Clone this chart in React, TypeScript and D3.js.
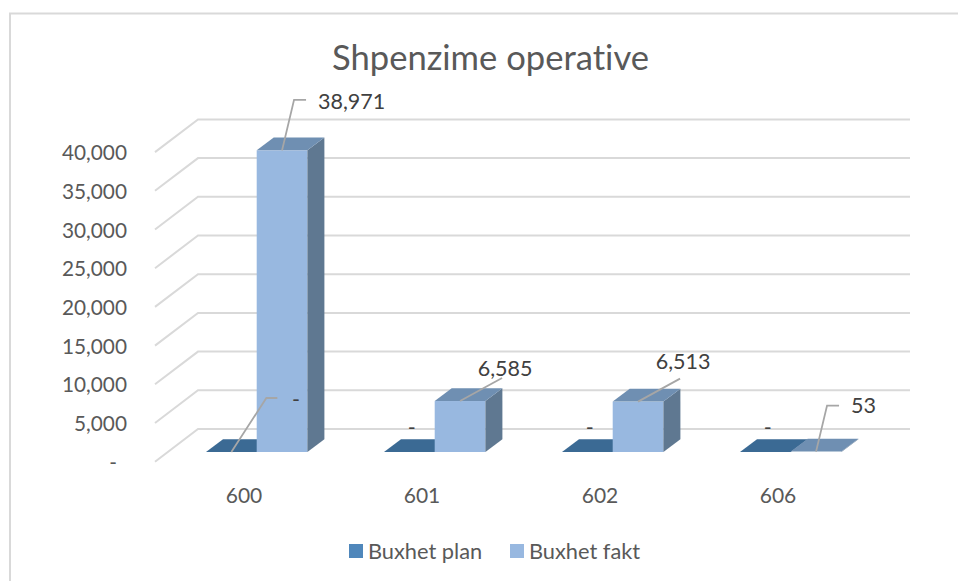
import React from "react";
import * as d3 from "d3";

const categories = ["600", "601", "602", "606"];
const seriesNames = ["Buxhet plan", "Buxhet fakt"];
const plan = [0, 0, 0, 0];
const fakt = [38971, 6585, 6513, 53];
const ticks = [0, 5000, 10000, 15000, 20000, 25000, 30000, 35000, 40000];

const FONT = "Lato, 'Open Sans', sans-serif";
const TXT = "#595959";
const LBL = "#404040";
const GRID = "#d9d9d9";
const LEAD = "#a6a6a6";

const fmt = (v: number) => (v === 0 ? "-" : d3.format(",")(v));

// category band on the bars' front plane
const x = d3.scaleBand<string>().domain(categories).range([168, 880]).paddingInner(0).paddingOuter(0);
// value axis: bars' front plane
const yBar = d3.scaleLinear().domain([0, 40000]).range([452, 452 - 38.7 * 8]);
// axis wall offsets
const axisLeft = 155, wallLeft = 198, wallRight = 910;
const yFront = (v: number) => yBar(v) + 9.7;
const yBack = (v: number) => yBar(v) - 23;
const depthX = 17, depthY = -12.8, barW = 50.7;

function Bar({ x0, v, front, top, side }: { x0: number; v: number; front: string; top: string; side: string }) {
  const yb = yBar(0), yt = yBar(v), x1 = x0 + barW;
  const p = (a: number[][]) => a.map((q) => q.join(",")).join(" ");
  return (
    <g>
      {yb - yt > 0.5 && <rect x={x0} y={yt} width={barW} height={yb - yt} fill={front} />}
      <polygon points={p([[x1, yb], [x1 + depthX, yb + depthY], [x1 + depthX, yt + depthY], [x1, yt]])} fill={side} />
      <polygon points={p([[x0, yt], [x1, yt], [x1 + depthX, yt + depthY], [x0 + depthX, yt + depthY]])} fill={top} />
    </g>
  );
}

// leader offsets per label, relative to the point on the bar's top
const faktLeaders = [
  { dx: [12, 24], dy: -50.5, lx: 36, ly: -49 },
  { dx: [42, 42], dy: -23, lx: 45, ly: -33 },
  { dx: [42, 42], dy: -23, lx: 45, ly: -41 },
  { dx: [11, 23], dy: -46, lx: 35, ly: -46.5 },
];

export default function App() {
  return (
    <svg width={958} height={581} style={{ position: "absolute", left: 0, top: 0, background: "#fff", fontVariantLigatures: "none" }} fontFamily={FONT}>
      <path d="M10,581V13.5H958" fill="none" stroke={GRID} strokeWidth={2} />
      <text x={490.5} y={70} textAnchor="middle" fontSize={34.6} fill={TXT}>Shpenzime operative</text>

      {ticks.map((t) => (
        <g key={t}>
          <polyline points={`${axisLeft},${yFront(t)} ${wallLeft},${yBack(t)} ${wallRight},${yBack(t)}`} fill="none" stroke={GRID} strokeWidth={2} />
          <text x={t === 0 ? 117 : 127} y={yFront(t) - 0.5} textAnchor="end" dominantBaseline="central" fontSize={20.8} fill={TXT}>{fmt(t)}</text>
        </g>
      ))}

      {categories.map((c) => (
        <text key={c} x={x(c)! + x.bandwidth() / 2 - 13} y={494} textAnchor="middle" dominantBaseline="central" fontSize={21} fill={TXT}>{c}</text>
      ))}

      {categories.map((c, i) => {
        const center = x(c)! + x.bandwidth() / 2 - 0.3;
        return (
          <g key={c}>
            <Bar x0={center - barW} v={plan[i]} front="#4f87bb" top="#3b6a94" side="#3b6a94" />
            <Bar x0={center} v={fakt[i]} front="#98b8e0" top="#6f8fb2" side="#5f7891" />
          </g>
        );
      })}

      {categories.map((c, i) => {
        const center = x(c)! + x.bandwidth() / 2 - 0.3;
        const ax = center + barW / 2, ay = yBar(fakt[i]);
        const l = faktLeaders[i];
        return (
          <g key={c}>
            <polyline points={`${ax},${ay} ${ax + l.dx[0]},${ay + l.dy} ${ax + l.dx[1]},${ay + l.dy}`} fill="none" stroke={LEAD} strokeWidth={1.8} />
            <text x={ax + l.lx} y={ay + l.ly} dominantBaseline="central" textAnchor={i === 1 || i === 2 ? "middle" : "start"} fontSize={21.5} fill={LBL}>{fmt(fakt[i])}</text>
            {i === 0 ? (
              <>
                <polyline points={`${center - barW / 2},${yBar(0)} ${center - barW / 2 + 35},${yBar(0) - 54} ${center - barW / 2 + 46},${yBar(0) - 54}`} fill="none" stroke={LEAD} strokeWidth={1.8} />
                <text x={296} y={399} textAnchor="middle" dominantBaseline="central" fontSize={21.5} fill={LBL}>{fmt(plan[i])}</text>
              </>
            ) : (
              <text x={center - 23} y={426.5} textAnchor="middle" dominantBaseline="central" fontSize={21.5} fill={LBL}>{fmt(plan[i])}</text>
            )}
          </g>
        );
      })}

      <g fontSize={21.8} fill={TXT}>
        <rect x={349} y={544} width={14} height={14} fill="#4f87bb" />
        <text x={368} y={550} dominantBaseline="central">{seriesNames[0]}</text>
        <rect x={510} y={544} width={14} height={14} fill="#98b8e0" />
        <text x={529} y={550} dominantBaseline="central">{seriesNames[1]}</text>
      </g>
    </svg>
  );
}
